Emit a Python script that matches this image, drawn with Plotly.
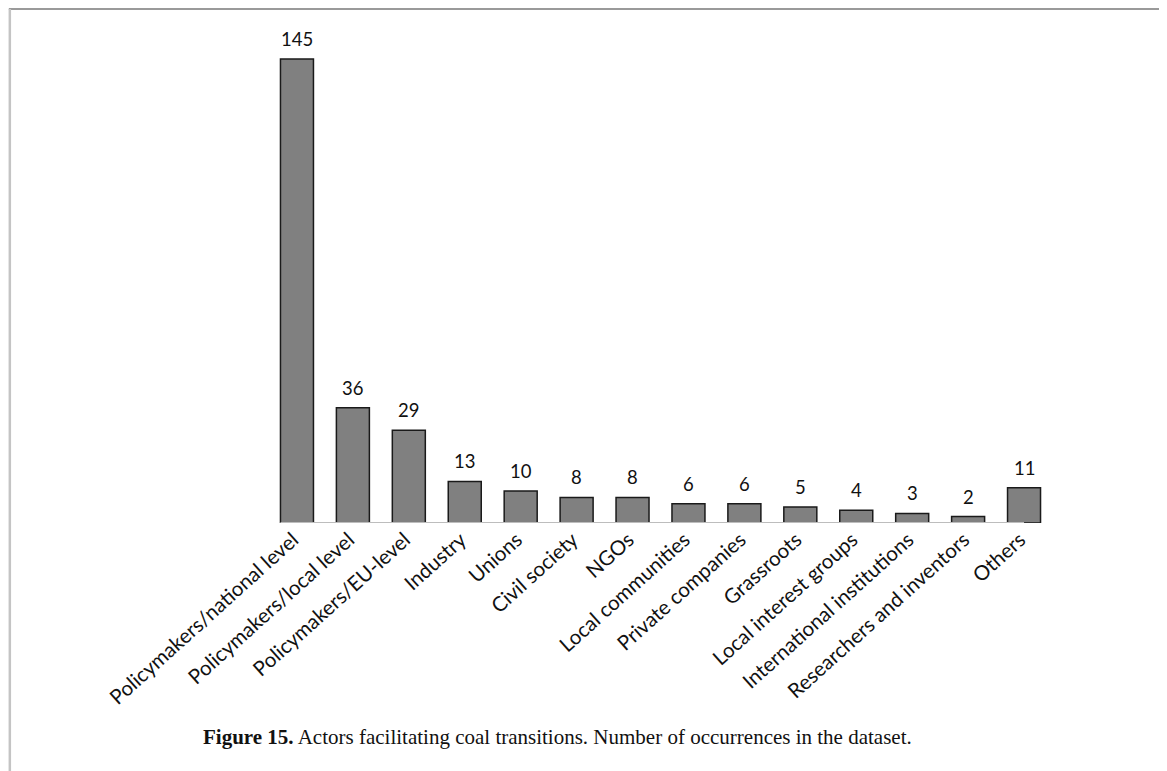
import plotly.graph_objects as go

categories = [
    "Policymakers/national level", "Policymakers/local level", "Policymakers/EU-level",
    "Industry", "Unions", "Civil society", "NGOs", "Local communities",
    "Private companies", "Grassroots", "Local interest groups",
    "International institutions", "Researchers and inventors", "Others",
]
counts = [145, 36, 29, 13, 10, 8, 8, 6, 6, 5, 4, 3, 2, 11]
caption = "<b>Figure 15.</b> Actors facilitating coal transitions. Number of occurrences in the dataset."

# page has an 8px body margin; figure pixel = page pixel - 8
OFF = 8
W, H = 1167 - OFF, 771 - OFF
L, R = 268.5 - OFF, 1052.5 - OFF   # plot area pixel edges (x)
T, B = 43.0 - OFF, 522.7 - OFF     # plot area pixel edges (y)

def px_x(p):
    return (p - OFF - L) / (R - L)

def px_y(p):
    return (B - (p - OFF)) / (B - T)

fig = go.Figure(go.Bar(
    x=categories, y=counts,
    width=0.59,
    marker=dict(color="#808080", line=dict(color="#1a1a1a", width=1.5)),
    hoverinfo="x+y",
))

for c, v in zip(categories, counts):
    fig.add_annotation(x=c, y=v, text=str(v), showarrow=False,
                       xanchor="center", yanchor="bottom", yshift=7,
                       font=dict(family="Lato", size=18.5, color="#111111"))

fig.update_layout(
    width=W, height=H,
    margin=dict(l=L, r=W - R, t=T, b=H - B, pad=0),
    paper_bgcolor="white", plot_bgcolor="white",
    showlegend=False,
    xaxis=dict(tickangle=-42, tickfont=dict(family="Lato", size=20.5, color="#111111"),
               showline=False, showgrid=False, ticks="", zeroline=False,
               ticklabelshift=-4,
               range=[-0.5, len(categories) - 0.5]),
    yaxis=dict(visible=False, range=[0, 150]),
)

# baseline
fig.add_shape(type="line", xref="x", yref="y", x0=-0.295, x1=13, y0=0, y1=0,
              line=dict(color="#bdbdbd", width=2))

# frame
fig.add_shape(type="line", xref="paper", yref="paper",
              x0=px_x(8), x1=px_x(1163), y0=px_y(9), y1=px_y(9),
              line=dict(color="#9a9a9a", width=2))
fig.add_shape(type="line", xref="paper", yref="paper",
              x0=px_x(9), x1=px_x(9), y0=px_y(9), y1=px_y(800),
              line=dict(color="#c4c4c4", width=2.5))
fig.add_shape(type="line", xref="paper", yref="paper",
              x0=px_x(1163), x1=px_x(1163), y0=px_y(9), y1=px_y(800),
              line=dict(color="#c4c4c4", width=2.5))

fig.add_annotation(text=caption, xref="paper", yref="paper",
                   x=px_x(557), y=px_y(737), xanchor="center", yanchor="middle",
                   showarrow=False,
                   font=dict(family="Liberation Serif", size=21, color="#111111"))

fig.write_html("out.html")
